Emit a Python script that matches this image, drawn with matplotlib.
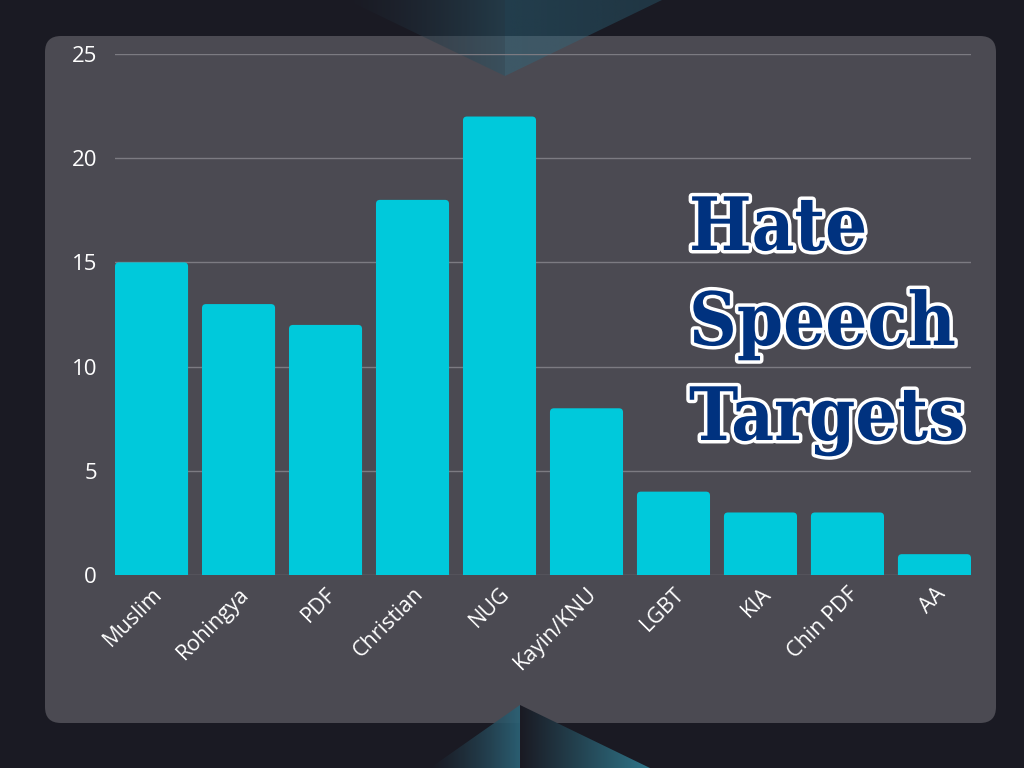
import numpy as np
import matplotlib
matplotlib.use("Agg")
from matplotlib import pyplot as plt
from matplotlib.patches import FancyBboxPatch, Polygon
import matplotlib.patheffects as pe

# data
targets = ["Muslim", "Rohingya", "PDF", "Christian", "NUG",
           "Kayin/KNU", "LGBT", "KIA", "Chin PDF", "AA"]
counts = [15, 13, 12, 18, 22, 8, 4, 3, 3, 1]
y_ticks = [0, 5, 10, 15, 20, 25]
title_lines = ["Hate", "Speech", "Targets"]

bg_col = "#1a1a23"
panel_col = "#4b4a52"
bar_col = "#00c9db"
title_col = "#00327f"

fig = plt.figure(figsize=(10.24, 7.68), dpi=100)
fig.patch.set_facecolor(bg_col)

# background layer in pixel coords
bg = fig.add_axes([0, 0, 1, 1])
bg.set_xlim(0, 1024)
bg.set_ylim(768, 0)
bg.axis("off")

panel = FancyBboxPatch((45, 36), 951, 687, boxstyle="round,pad=0,rounding_size=16",
                       facecolor=panel_col, edgecolor="none")
bg.add_patch(panel)


def gradient_tri(verts, c0, c1, a0, a1, x0, x1):
    # horizontal colour/alpha gradient clipped to a triangle
    n = 256
    t = np.linspace(0, 1, n)
    c0 = np.array(matplotlib.colors.to_rgb(c0))
    c1 = np.array(matplotlib.colors.to_rgb(c1))
    img = np.zeros((2, n, 4))
    img[:, :, :3] = c0 + (c1 - c0) * t[:, None]
    img[:, :, 3] = a0 + (a1 - a0) * t
    ys = [v[1] for v in verts]
    im = bg.imshow(img, extent=(x0, x1, max(ys), min(ys)), aspect="auto",
                   interpolation="bilinear", zorder=3)
    poly = Polygon(verts, closed=True, facecolor="none", edgecolor="none",
                   transform=bg.transData)
    bg.add_patch(poly)
    im.set_clip_path(poly)


# top decoration
gradient_tri([(347, 0), (505, 0), (505, 76)], "#1a1a23", "#2c5566", 0.35, 0.55, 347, 505)
gradient_tri([(505, 0), (662, 0), (505, 76)], "#2d6a80", "#2d6a80", 0.45, 0.35, 505, 662)
# bottom decoration
gradient_tri([(430, 768), (520, 705), (520, 768)], "#1a1a23", "#2c6276", 0.6, 0.95, 430, 520)
gradient_tri([(520, 705), (650, 768), (520, 768)], "#1a1a23", "#2f7488", 1.0, 1.0, 520, 650)

# main chart
ax = fig.add_axes([115 / 1024, 1 - 575 / 768, 856 / 1024, 521 / 768])
ax.patch.set_alpha(0)
x = np.arange(len(targets))
bars = ax.bar(x, counts, width=0.84, color=bar_col, zorder=3)
ax.set_xlim(-0.42, len(targets) - 0.58)
ax.set_ylim(0, 25)

# swap each bar for one with rounded top corners (bottom hidden below 0)
px_x = 856 / (len(targets) - 1 + 0.84)
px_y = 521 / 25
rad = 4 / px_x
for b in bars:
    b.set_visible(False)
    bx, bw, bh = b.get_x(), b.get_width(), b.get_height()
    rb = FancyBboxPatch((bx, -1), bw, bh + 1,
                        boxstyle=f"round,pad=0,rounding_size={rad}",
                        mutation_aspect=px_x / px_y,
                        facecolor=bar_col, edgecolor="none", zorder=3)
    ax.add_patch(rb)

ax.set_yticks(y_ticks)
ax.yaxis.grid(True, color="#7c7b82", linewidth=1, zorder=0)
ax.set_axisbelow(True)
for s in ax.spines.values():
    s.set_visible(False)
ax.tick_params(axis="both", length=0, colors="white")
ax.tick_params(axis="y", pad=13, labelsize=16)
ax.tick_params(axis="x", pad=6)
ax.set_xticks(x)
ax.set_xticklabels(targets, rotation=45, ha="right", rotation_mode="anchor",
                   fontsize=15.5, family="Open Sans")
for lab in ax.get_yticklabels():
    lab.set_family("Open Sans")

# title block, one line at a time
baselines = [250, 345, 440]
for line, yb in zip(title_lines, baselines):
    fig.text(689 / 1024, 1 - yb / 768, line, ha="left", va="baseline",
             fontsize=53, fontweight="bold", fontstretch="condensed",
             family="DejaVu Serif", color=title_col,
             path_effects=[pe.Stroke(linewidth=5, foreground="white"), pe.Normal()])

fig.savefig("out.png", dpi=100, facecolor=fig.get_facecolor())
